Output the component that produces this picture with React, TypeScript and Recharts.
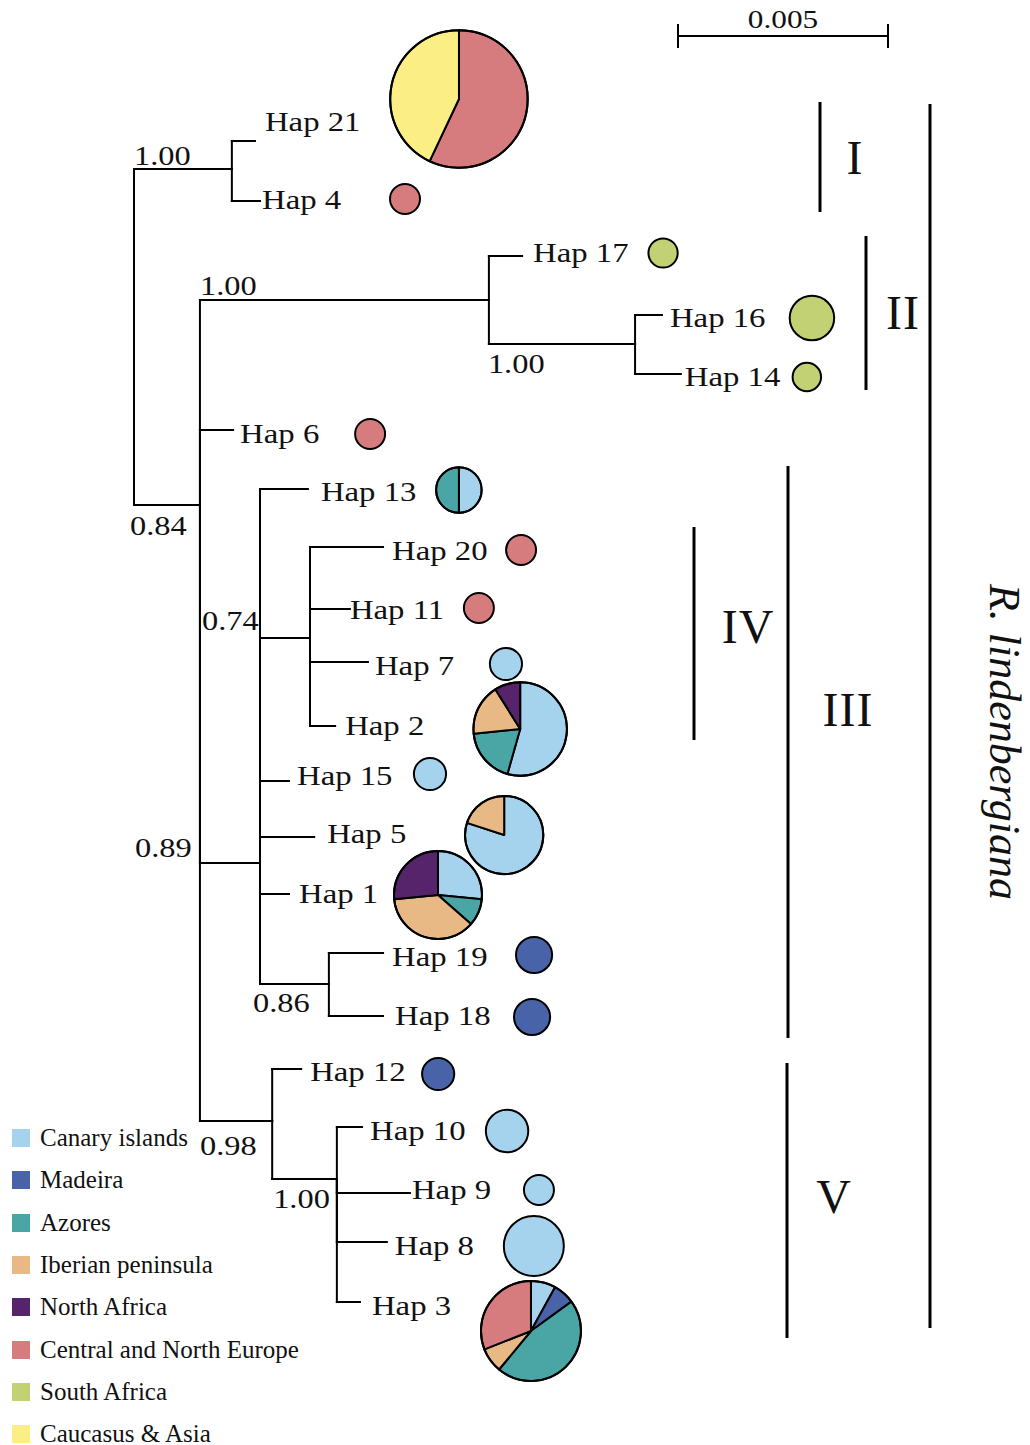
import { Legend, ReferenceLine, Scatter, ScatterChart, Sector, XAxis, YAxis, ZAxis } from 'recharts';

const W = 1030;
const H = 1445;
const FONT = '"Liberation Serif", "Times New Roman", serif';

// sampling regions, in the order slices run clockwise from 12 o'clock
const REGIONS = [
  'Canary islands',
  'Madeira',
  'Azores',
  'Iberian peninsula',
  'North Africa',
  'Central and North Europe',
  'South Africa',
  'Caucasus & Asia',
];
const REGION_COLORS = ['#a5d3ee', '#4863a7', '#4aa6a5', '#e8b985', '#56246a', '#d67c7f', '#c2d173', '#fbee84'];

// tree nodes: x = substitutions/site from the root, y = vertical position of the node's branch
const NODES = [
  { id: 'root', parent: '', x: 0, y: 337 },
  { id: 'nI', parent: 'root', x: 0.00233, y: 169 },
  { id: 'Hap 21', parent: 'nI', x: 0.00288, y: 141 },
  { id: 'Hap 4', parent: 'nI', x: 0.003, y: 201 },
  { id: 'nB', parent: 'root', x: 0.00157, y: 505 },
  { id: 'nII', parent: 'nB', x: 0.00845, y: 300 },
  { id: 'Hap 17', parent: 'nII', x: 0.00924, y: 256 },
  { id: 'nII2', parent: 'nII', x: 0.01193, y: 344 },
  { id: 'Hap 16', parent: 'nII2', x: 0.01257, y: 315 },
  { id: 'Hap 14', parent: 'nII2', x: 0.01302, y: 374 },
  { id: 'Hap 6', parent: 'nB', x: 0.00236, y: 430 },
  { id: 'nIII', parent: 'nB', x: 0.003, y: 863 },
  { id: 'Hap 13', parent: 'nIII', x: 0.00414, y: 489 },
  { id: 'nIV', parent: 'nIII', x: 0.00419, y: 638 },
  { id: 'Hap 20', parent: 'nIV', x: 0.00593, y: 547 },
  { id: 'Hap 11', parent: 'nIV', x: 0.00514, y: 609 },
  { id: 'Hap 7', parent: 'nIV', x: 0.00557, y: 662 },
  { id: 'Hap 2', parent: 'nIV', x: 0.00479, y: 726 },
  { id: 'Hap 15', parent: 'nIII', x: 0.00369, y: 781 },
  { id: 'Hap 5', parent: 'nIII', x: 0.00429, y: 837 },
  { id: 'Hap 1', parent: 'nIII', x: 0.00369, y: 894 },
  { id: 'n1918', parent: 'nIII', x: 0.00464, y: 984 },
  { id: 'Hap 19', parent: 'n1918', x: 0.00593, y: 953 },
  { id: 'Hap 18', parent: 'n1918', x: 0.00593, y: 1016 },
  { id: 'nV', parent: 'nB', x: 0.00329, y: 1121 },
  { id: 'Hap 12', parent: 'nV', x: 0.00398, y: 1069 },
  { id: 'nV2', parent: 'nV', x: 0.00483, y: 1179 },
  { id: 'Hap 10', parent: 'nV2', x: 0.00543, y: 1127 },
  { id: 'Hap 9', parent: 'nV2', x: 0.00657, y: 1193 },
  { id: 'Hap 8', parent: 'nV2', x: 0.00602, y: 1242 },
  { id: 'Hap 3', parent: 'nV2', x: 0.00538, y: 1302 },
];

// posterior support of internal nodes
const SUPPORT: Record<string, string> = {
  nI: '1.00',
  nII: '1.00',
  nII2: '1.00',
  nB: '0.84',
  nIII: '0.89',
  nIV: '0.74',
  n1918: '0.86',
  nV: '0.98',
  nV2: '1.00',
};

// relative sample size of each haplotype (pie area)
const HAP_WEIGHT: Record<string, number> = {
  'Hap 21': 21, 'Hap 4': 1, 'Hap 17': 0.95, 'Hap 16': 2.2, 'Hap 14': 0.9, 'Hap 6': 1,
  'Hap 13': 2.3, 'Hap 20': 1, 'Hap 11': 1, 'Hap 7': 1.15, 'Hap 2': 9.7, 'Hap 15': 1.15,
  'Hap 5': 6.8, 'Hap 1': 8.6, 'Hap 19': 1.45, 'Hap 18': 1.45, 'Hap 12': 1.15,
  'Hap 10': 2, 'Hap 9': 1, 'Hap 8': 4, 'Hap 3': 11.1,
};

// share of each region (REGIONS order) per haplotype
const HAP_SHARES: Record<string, number[]> = {
  'Hap 21': [0, 0, 0, 0, 0, 0.57, 0, 0.43],
  'Hap 4': [0, 0, 0, 0, 0, 1, 0, 0],
  'Hap 17': [0, 0, 0, 0, 0, 0, 1, 0],
  'Hap 16': [0, 0, 0, 0, 0, 0, 1, 0],
  'Hap 14': [0, 0, 0, 0, 0, 0, 1, 0],
  'Hap 6': [0, 0, 0, 0, 0, 1, 0, 0],
  'Hap 13': [0.5, 0, 0.5, 0, 0, 0, 0, 0],
  'Hap 20': [0, 0, 0, 0, 0, 1, 0, 0],
  'Hap 11': [0, 0, 0, 0, 0, 1, 0, 0],
  'Hap 7': [1, 0, 0, 0, 0, 0, 0, 0],
  'Hap 2': [0.544, 0, 0.19, 0.177, 0.089, 0, 0, 0],
  'Hap 15': [1, 0, 0, 0, 0, 0, 0, 0],
  'Hap 5': [0.8, 0, 0, 0.2, 0, 0, 0, 0],
  'Hap 1': [0.265, 0, 0.1, 0.37, 0.265, 0, 0, 0],
  'Hap 19': [0, 1, 0, 0, 0, 0, 0, 0],
  'Hap 18': [0, 1, 0, 0, 0, 0, 0, 0],
  'Hap 12': [0, 1, 0, 0, 0, 0, 0, 0],
  'Hap 10': [1, 0, 0, 0, 0, 0, 0, 0],
  'Hap 9': [1, 0, 0, 0, 0, 0, 0, 0],
  'Hap 8': [1, 0, 0, 0, 0, 0, 0, 0],
  'Hap 3': [0.08, 0.07, 0.46, 0.08, 0, 0.31, 0, 0],
};

const SCALE_LENGTH = 0.005;

// ---- layout ----
const ROOT_PX = 134;
const PX_PER_UNIT = 42000;
const toX = (px: number) => (px - ROOT_PX) / PX_PER_UNIT;
const X_MIN = toX(0);
const X_MAX = toX(W);

// [label dx, label baseline dy, pie dx, pie dy] from the tip end
const TIP_LAYOUT: Record<string, number[]> = {
  'Hap 21': [10, -10, 204, -42],
  'Hap 4': [2, 8, 145, -2],
  'Hap 17': [11, 6, 141, -3],
  'Hap 16': [8, 12, 150, 3],
  'Hap 14': [4, 12, 126, 3],
  'Hap 6': [7, 13, 137, 4],
  'Hap 13': [13, 12, 151, 1],
  'Hap 20': [9, 13, 138, 3],
  'Hap 11': [0, 10, 129, -1],
  'Hap 7': [7, 13, 138, 2],
  'Hap 2': [10, 9, 185, 3],
  'Hap 15': [8, 4, 141, -7],
  'Hap 5': [13, 6, 190, -2],
  'Hap 1': [10, 9, 149, 1],
  'Hap 19': [9, 13, 151, 2],
  'Hap 18': [12, 9, 149, 1],
  'Hap 12': [9, 12, 137, 5],
  'Hap 10': [8, 13, 145, 4],
  'Hap 9': [2, 6, 129, -3],
  'Hap 8': [8, 13, 147, 4],
  'Hap 3': [12, 13, 171, 29],
};

// [dx from parent, baseline dy from branch]
const SUPPORT_LAYOUT: Record<string, number[]> = {
  nI: [0, -4],
  nII: [0, -5],
  nII2: [-1, 29],
  nB: [-4, 30],
  nIII: [-65, -6],
  nIV: [-58, -8],
  n1918: [-7, 28],
  nV: [0, 34],
  nV2: [1, 29],
};

const CLADES = [
  { name: 'I', x: 820, y1: 102, y2: 212, labelX: 855, labelY: 158 },
  { name: 'II', x: 866, y1: 236, y2: 390, labelX: 903, labelY: 313 },
  { name: 'IV', x: 694, y1: 527, y2: 740, labelX: 748, labelY: 627 },
  { name: 'III', x: 788, y1: 466, y2: 1038, labelX: 848, labelY: 710 },
  { name: 'V', x: 787, y1: 1063, y2: 1338, labelX: 834, labelY: 1197 },
];
const SPECIES = { name: 'R. lindenbergiana', x: 930, y1: 104, y2: 1328, labelX: 990, labelY: 742 };

const byId: Record<string, (typeof NODES)[number]> = Object.fromEntries(NODES.map((n) => [n.id, n]));
const hasChild = new Set(NODES.map((n) => n.parent));

const segments = NODES.filter((n) => n.parent).flatMap((n) => {
  const p = byId[n.parent];
  return [
    [{ x: p.x, y: p.y }, { x: p.x, y: n.y }],
    [{ x: p.x, y: n.y }, { x: n.x, y: n.y }],
  ];
});

const tipData = NODES.filter((n) => !hasChild.has(n.id)).map((n) => ({
  id: n.id,
  x: n.x,
  y: n.y,
  w: HAP_WEIGHT[n.id],
}));

const supportData = Object.keys(SUPPORT).map((id) => ({
  id,
  x: byId[byId[id].parent].x,
  y: byId[id].y,
  w: 0,
}));

const scaleX0 = toX(678);
const annotations = [
  ...CLADES.map((c) => ({ kind: 'clade', text: c.name, x: toX(c.labelX), y: c.labelY, w: 0 })),
  { kind: 'species', text: SPECIES.name, x: toX(SPECIES.labelX), y: SPECIES.labelY, w: 0 },
  { kind: 'scale', text: String(SCALE_LENGTH), x: scaleX0 + SCALE_LENGTH / 2, y: 28, w: 0 },
];

// the original figure's lettering is stretched horizontally
function Stretched({ x, y, sx, size, anchor = 'start', children }: any) {
  return (
    <text
      transform={`translate(${x} ${y}) scale(${sx} 1)`}
      textAnchor={anchor}
      fontFamily={FONT}
      fontSize={size}
      fill="#111"
    >
      {children}
    </text>
  );
}

function TipShape(props: any) {
  const { cx, cy, size, payload } = props;
  const [ldx, ldy, pdx, pdy] = TIP_LAYOUT[payload.id];
  const r = Math.sqrt((size || 0) / Math.PI);
  const px = cx + pdx;
  const py = cy + pdy;
  const shares = HAP_SHARES[payload.id];
  const total = shares.reduce((a, b) => a + b, 0);
  const parts = shares.map((s, i) => ({ s: s / total, i })).filter((d) => d.s > 0);
  let angle = 90;
  return (
    <g>
      <Stretched x={cx + ldx} y={cy + ldy} sx={1.17} size={28}>
        {payload.id}
      </Stretched>
      {parts.length === 1 ? (
        <circle cx={px} cy={py} r={r} fill={REGION_COLORS[parts[0].i]} />
      ) : (
        parts.map((d) => {
          const start = angle;
          angle -= d.s * 360;
          return (
            <Sector
              key={d.i}
              cx={px}
              cy={py}
              innerRadius={0}
              outerRadius={r}
              startAngle={start}
              endAngle={angle}
              fill={REGION_COLORS[d.i]}
              stroke="#000"
              strokeWidth={2}
              strokeLinejoin="round"
            />
          );
        })
      )}
      <circle cx={px} cy={py} r={r} fill="none" stroke="#000" strokeWidth={2} />
    </g>
  );
}

function SupportShape(props: any) {
  const { cx, cy, payload } = props;
  const [dx, dy] = SUPPORT_LAYOUT[payload.id];
  return (
    <Stretched x={cx + dx} y={cy + dy} sx={1.2} size={27}>
      {SUPPORT[payload.id]}
    </Stretched>
  );
}

function AnnotationShape(props: any) {
  const { cx, cy, payload } = props;
  if (payload.kind === 'species') {
    return (
      <text
        x={cx}
        y={cy}
        transform={`rotate(90 ${cx} ${cy})`}
        textAnchor="middle"
        fontFamily={FONT}
        fontStyle="italic"
        fontSize={44}
        fill="#111"
      >
        {payload.text}
      </text>
    );
  }
  if (payload.kind === 'scale') {
    return (
      <Stretched x={cx} y={cy} sx={1.25} size={25} anchor="middle">
        {payload.text}
      </Stretched>
    );
  }
  return (
    <text x={cx} y={cy + 16} textAnchor="middle" fontFamily={FONT} fontSize={48} letterSpacing={1} fill="#111">
      {payload.text}
    </text>
  );
}

function RegionLegend() {
  return (
    <div style={{ fontFamily: FONT, fontSize: 25, color: '#111' }}>
      {REGIONS.map((name, i) => (
        <div key={name} style={{ display: 'flex', alignItems: 'center', height: 42.3 }}>
          <span style={{ width: 18, height: 18, background: REGION_COLORS[i], marginRight: 10, flex: 'none' }} />
          <span style={{ whiteSpace: 'nowrap' }}>{name}</span>
        </div>
      ))}
    </div>
  );
}

export default function App() {
  return (
    <div style={{ position: 'absolute', left: 0, top: 0, width: W, height: H, background: '#fff' }}>
      <ScatterChart width={W} height={H} margin={{ top: 0, right: 0, bottom: 0, left: 0 }}>
        <XAxis type="number" dataKey="x" domain={[X_MIN, X_MAX]} hide />
        <YAxis type="number" dataKey="y" domain={[0, H]} reversed hide />
        <ZAxis type="number" dataKey="w" domain={[0, 21]} range={[0, Math.PI * 15 * 15 * 21]} />
        {segments.map((s, i) => (
          <ReferenceLine key={`e${i}`} segment={s} stroke="#000" strokeWidth={2} strokeLinecap="square" />
        ))}
        {CLADES.map((c) => (
          <ReferenceLine
            key={c.name}
            segment={[{ x: toX(c.x), y: c.y1 }, { x: toX(c.x), y: c.y2 }]}
            stroke="#000"
            strokeWidth={3}
          />
        ))}
        <ReferenceLine
          segment={[{ x: toX(SPECIES.x), y: SPECIES.y1 }, { x: toX(SPECIES.x), y: SPECIES.y2 }]}
          stroke="#000"
          strokeWidth={3}
        />
        <ReferenceLine segment={[{ x: scaleX0, y: 36 }, { x: scaleX0 + SCALE_LENGTH, y: 36 }]} stroke="#000" strokeWidth={2} />
        <ReferenceLine segment={[{ x: scaleX0, y: 24 }, { x: scaleX0, y: 48 }]} stroke="#000" strokeWidth={2} />
        <ReferenceLine
          segment={[{ x: scaleX0 + SCALE_LENGTH, y: 24 }, { x: scaleX0 + SCALE_LENGTH, y: 48 }]}
          stroke="#000"
          strokeWidth={2}
        />
        <Scatter data={supportData} shape={SupportShape} isAnimationActive={false} />
        <Scatter data={annotations} shape={AnnotationShape} isAnimationActive={false} />
        <Scatter data={tipData} shape={TipShape} isAnimationActive={false} />
        <Legend
          content={() => <RegionLegend />}
          layout="vertical"
          align="center"
          verticalAlign="middle"
          wrapperStyle={{ left: 12, top: 1117, width: 320 }}
        />
      </ScatterChart>
    </div>
  );
}
